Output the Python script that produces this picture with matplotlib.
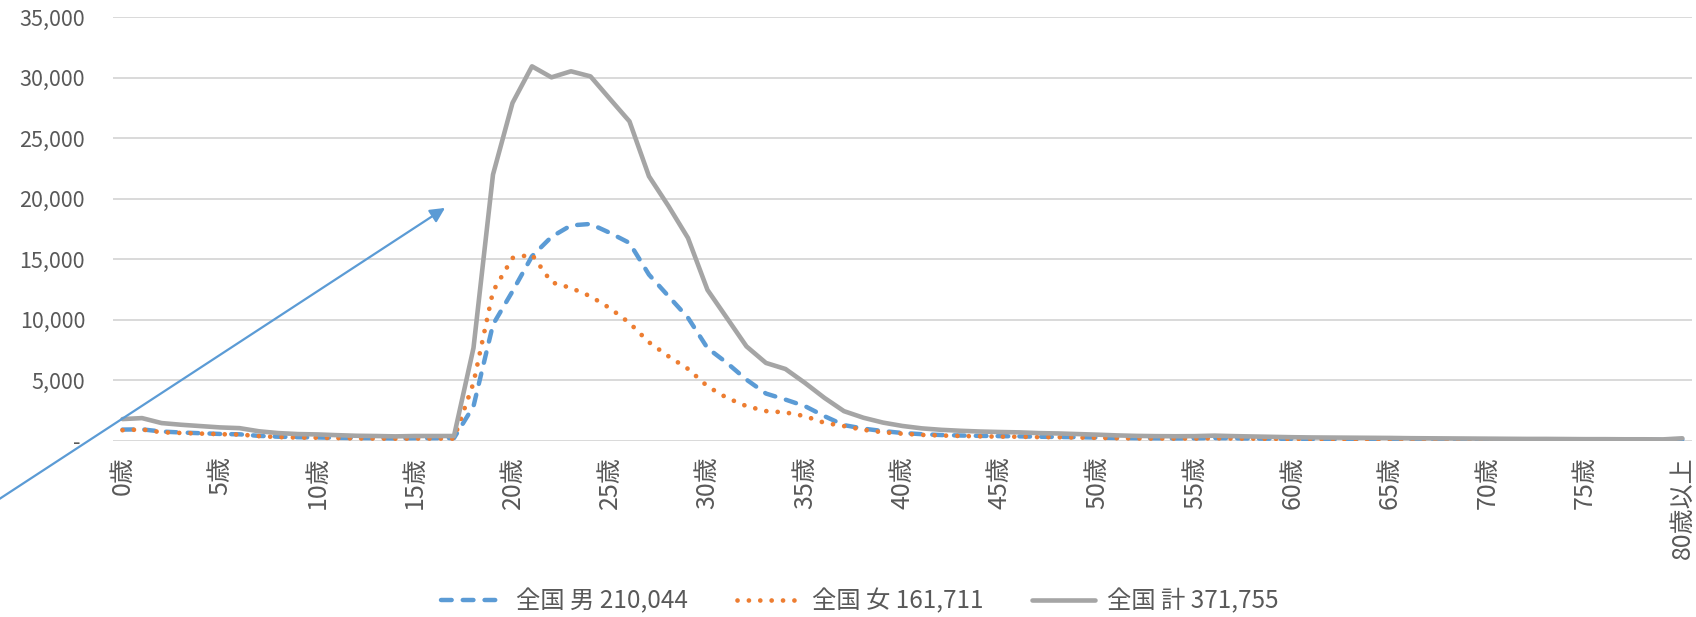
import matplotlib.pyplot as plt
from matplotlib.ticker import FuncFormatter

plt.rcParams['font.family'] = ['Noto Sans CJK JP', 'DejaVu Sans']

# 年齢区分 (0歳〜80歳以上)
ages = [f"{i}歳" for i in range(80)] + ["80歳以上"]

male = [920, 940, 760, 680, 620, 560, 530, 400, 330, 290,
        270, 240, 220, 210, 190, 210, 210, 220, 2850, 9600,
        12350, 15250, 16850, 17800, 17920, 17180, 16350, 13730, 11950, 10170,
        7660, 6430, 5050, 3900, 3400, 2860, 2030, 1290, 1000, 800,
        640, 540, 470, 430, 400, 380, 360, 330, 310, 290,
        260, 230, 210, 200, 190, 200, 220, 200, 180, 170,
        150, 140, 135, 130, 125, 120, 110, 105, 100, 95,
        90, 85, 80, 78, 74, 70, 68, 64, 62, 58,
        100]

female = [870, 930, 700, 640, 590, 540, 510, 380, 300, 260,
          250, 220, 190, 180, 170, 180, 180, 170, 4780, 12350,
          15110, 15390, 13100, 12630, 11940, 10950, 9740, 8140, 6980, 5940,
          4500, 3540, 2860, 2450, 2340, 2030, 1480, 1210, 900, 700,
          580, 480, 430, 390, 360, 340, 330, 300, 290, 260,
          240, 210, 190, 180, 180, 180, 200, 180, 170, 150,
          140, 130, 125, 120, 115, 110, 100, 95, 90, 85,
          80, 75, 70, 72, 66, 60, 62, 56, 58, 52,
          100]

total = [1790, 1870, 1460, 1320, 1210, 1100, 1040, 780, 630, 550,
         520, 460, 410, 390, 360, 390, 390, 390, 7670, 22000,
         27920, 30950, 30040, 30540, 30120, 28250, 26400, 21860, 19400, 16760,
         12470, 10140, 7800, 6430, 5930, 4780, 3540, 2445, 1900, 1500,
         1220, 1020, 900, 820, 760, 720, 690, 630, 600, 550,
         500, 440, 400, 380, 370, 380, 420, 380, 350, 320,
         290, 270, 260, 250, 240, 230, 210, 200, 190, 180,
         170, 160, 150, 150, 140, 130, 130, 120, 120, 110,
         200]

labels = ["全国 男 210,044", "全国 女 161,711", "全国 計 371,755"]

fig = plt.figure(figsize=(16.96, 6.17), dpi=100)
ax = fig.add_axes([0.0665, 0.2857, 0.9312, 0.6862])

x = range(len(ages))
ax.plot(x, male, color='#5B9BD5', lw=3.2, dashes=(2.4, 2.5),
        dash_capstyle='round', solid_joinstyle='round', label=labels[0])
ax.plot(x, female, color='#ED7D31', lw=3.4, dashes=(0.01, 2.4),
        dash_capstyle='round', label=labels[1])
ax.plot(x, total, color='#A5A5A5', lw=3.3, solid_capstyle='round',
        solid_joinstyle='round', label=labels[2])

ax.set_xlim(-0.5, len(ages) - 0.5)
ax.set_ylim(0, 35000)
ax.set_yticks(range(0, 35001, 5000))
ax.yaxis.set_major_formatter(FuncFormatter(lambda v, p: '- ' if v == 0 else f'{v:,.0f}'))
ax.set_xticks(list(x)[::5])
ax.set_xticklabels(ages[::5], rotation=90, va='top', ha='center', fontsize=18)

ax.grid(axis='y', color='#D9D9D9', lw=1.4)
ax.set_axisbelow(True)
for s in ax.spines.values():
    s.set_visible(False)
ax.tick_params(axis='both', length=0, colors='#595959')
ax.tick_params(axis='y', pad=20, labelsize=15.5)
ax.tick_params(axis='x', pad=11)

# 矢印
ax.annotate('', xy=(0.2624, 0.663), xytext=(-0.01, 0.174),
            xycoords='figure fraction', textcoords='figure fraction',
            annotation_clip=False,
            arrowprops=dict(arrowstyle='-|>', color='#5B9BD5', lw=1.6,
                            mutation_scale=22, shrinkA=0, shrinkB=0))

fig.legend(loc='center', bbox_to_anchor=(0.507, 0.025), ncol=3, frameon=False,
           fontsize=17.5, handlelength=2.6, handletextpad=0.5, columnspacing=2.0,
           labelcolor='#595959')

fig.savefig('out.png', dpi=100)
